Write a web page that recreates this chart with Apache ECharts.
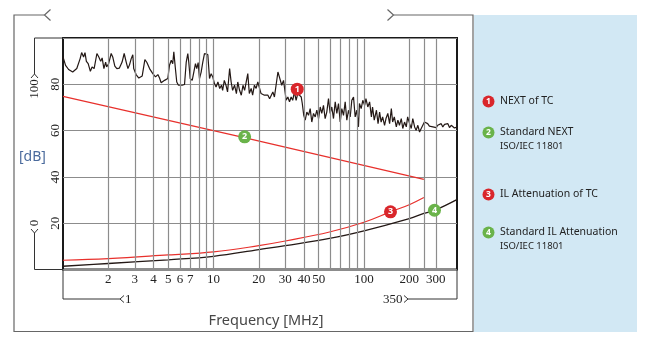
<!DOCTYPE html>
<html>
<head>
<meta charset="utf-8">
<script src="https://cdn.jsdelivr.net/npm/echarts@6/dist/echarts.min.js"></script>
<style>
  html, body { margin: 0; padding: 0; background: #ffffff; }
  #chart { width: 655px; height: 342px; }
</style>
</head>
<body>
<div id="chart"></div>
<script>
// Measured NEXT of the cable (noisy trace), frequency in MHz and level in dB
const nextFreq = [
  1.00, 1.04, 1.09, 1.16, 1.235, 1.30, 1.33, 1.37, 1.40, 1.43, 1.47, 1.52, 1.56, 1.61, 1.68, 1.73,
  1.78, 1.82, 1.87, 1.92, 1.95, 2.01, 2.09, 2.14, 2.21, 2.28, 2.37, 2.47, 2.55, 2.63, 2.70, 2.77,
  2.84, 2.91, 2.95, 3.06, 3.19, 3.36, 3.50, 3.61, 3.76, 3.95, 4.12, 4.27, 4.38, 4.49, 4.73, 4.85,
  4.97, 5.10, 5.24, 5.36, 5.45, 5.57, 5.70, 5.85, 6.01, 6.19, 6.42, 6.59, 6.75, 6.85, 7.00, 7.22,
  7.40, 7.59, 7.74, 7.91, 8.07, 8.28, 8.49, 8.71, 8.94, 9.17, 9.41, 9.65, 9.89, 10.15, 10.4, 10.7,
  11.0, 11.3, 11.5, 11.8, 12.1, 12.4, 12.8, 13.1, 13.4, 13.8, 14.2, 14.5, 14.9, 15.3, 15.7, 16.1,
  16.5, 16.9, 17.3, 17.8, 18.2, 18.7, 19.2, 19.7, 20.2, 20.7, 21.3, 21.8, 22.4, 23.0, 23.6, 24.2,
  24.8, 25.4, 26.1, 26.8, 27.4, 27.9, 28.4, 29.2, 30.0, 30.4, 31.2, 32.0, 32.8, 33.6, 34.5, 35.4,
  36.3, 37.3, 38.3, 38.9, 39.8, 40.7, 41.7, 42.8, 43.9, 45.0, 46.2, 47.4, 48.6, 49.9, 51.2, 52.4,
  53.8, 55.2, 56.6, 58.1, 59.6, 61.1, 62.7, 64.4, 66.0, 67.7, 69.5, 71.2, 73.1, 75.0, 76.9, 78.9,
  81.0, 83.0, 85.2, 87.4, 89.6, 91.9, 93.3, 95.8, 98.2, 101, 103, 106, 109, 112, 114, 117,
  121, 124, 127, 130, 133, 137, 140, 144, 148, 152, 155, 159, 164, 168, 172, 177,
  181, 186, 191, 195, 201, 206, 211, 217, 222, 228, 234, 240, 246, 252, 259, 265,
  272, 280, 287, 294, 302, 309, 317, 326, 334, 343, 352, 361, 370, 380, 389, 399, 414
];
const nextDb = [
  91.8, 88.2, 86.4, 85.3, 86.8, 91.1, 93.7, 91.8, 93.7, 89.9, 88.9, 85.6, 87.5, 86.8, 93.3, 91.8,
  89.9, 91.4, 86.8, 89.6, 87.5, 88.9, 93.3, 91.8, 87.9, 86.8, 87.0, 89.6, 93.3, 89.6, 86.8, 88.5,
  91.1, 92.8, 86.8, 84.2, 82.7, 83.6, 90.7, 89.4, 86.8, 84.6, 83.2, 84.2, 82.7, 80.7, 81.7, 81.0,
  82.5, 88.2, 90.4, 88.9, 94.0, 87.5, 81.0, 79.6, 80.3, 79.6, 79.9, 89.6, 93.3, 89.6, 82.5, 81.7,
  85.3, 88.9, 86.8, 89.4, 82.5, 85.3, 89.6, 93.3, 92.5, 92.8, 82.5, 84.6, 83.2, 80.3, 78.8, 81.0,
  78.2, 79.6, 77.4, 81.7, 79.6, 76.7, 86.8, 81.0, 77.4, 79.6, 76.0, 81.0, 77.4, 75.3, 79.6, 77.4,
  81.0, 84.6, 76.0, 78.2, 75.3, 79.6, 78.2, 81.0, 81.0, 76.0, 76.7, 75.3, 74.5, 75.3, 73.8, 74.5,
  76.7, 74.5, 75.3, 85.3, 83.2, 83.9, 79.6, 81.7, 76.0, 73.1, 74.5, 72.4, 74.5, 73.1, 76.7, 73.1,
  76.0, 75.3, 74.5, 71.7, 66.6, 64.5, 68.0, 66.6, 69.5, 63.7, 67.4, 65.9, 68.8, 65.2, 70.2, 67.4,
  70.9, 65.2, 68.0, 73.8, 67.4, 70.2, 65.2, 72.4, 67.4, 71.7, 63.7, 69.5, 66.6, 72.4, 64.5, 68.8,
  65.9, 73.1, 74.5, 65.9, 68.8, 61.6, 71.7, 69.5, 73.1, 70.9, 73.8, 70.2, 72.4, 65.9, 70.2, 64.5,
  68.8, 63.0, 68.0, 63.7, 65.9, 62.3, 65.2, 67.4, 63.0, 69.5, 63.7, 65.9, 61.6, 64.5, 62.3, 65.2,
  60.9, 63.7, 61.6, 65.9, 63.0, 60.9, 65.2, 61.6, 60.1, 62.3, 59.4, 60.9, 61.6, 63.7, 64.5, 63.0,
  61.9, 62.3, 61.6, 62.0, 61.3, 62.3, 61.6, 63.0, 61.6, 62.7, 61.9, 63.0, 61.3, 62.3, 61.6, 61.1, 61.5
];

// ISO/IEC 11801 NEXT limit
const stdNextFreq = [1, 16, 250];
const stdNextDb = [74.8, 57.0, 38.9];

// Insertion loss of the cable
const ilFreq = [1, 2, 5, 10, 20, 30, 59, 100, 150, 200, 250];
const ilDb = [4.0, 4.7, 6.3, 7.6, 10.3, 12.3, 16.2, 20.4, 24.9, 28.0, 31.1];

// ISO/IEC 11801 insertion loss limit
const stdIlFreq = [1, 2, 5, 10, 20, 30, 59, 100, 200, 250, 300, 414];
const stdIlDb = [1.4, 2.6, 4.2, 5.7, 8.6, 10.3, 13.4, 16.7, 22.0, 24.2, 25.8, 30.2];

// Frequency grid lines and the ones that carry a label
const xGridValues = [2, 3, 4, 5, 6, 7, 8, 9, 10, 20, 30, 40, 50, 60, 70, 80, 90, 100, 200, 250, 300];
const xTickLabels = [2, 3, 4, 5, 6, 7, 10, 20, 30, 40, 50, 100, 200, 300];
const yTickLabels = [20, 40, 60, 80];

// Numbered callouts: [frequency, dB]
const callouts = [
  { num: '1', at: [36, 77.9], color: '#d9262b' },
  { num: '2', at: [16.1, 57.3], color: '#6ab34a' },
  { num: '3', at: [150, 24.9], color: '#d9262b' },
  { num: '4', at: [294, 25.6], color: '#6ab34a' }
];

const X_MIN = 1, X_MAX = 415;
const RED = '#e8302c';
const INK = '#231815';
const GRID = '#8c8c8c';
const SERIF = '"Liberation Serif", "DejaVu Serif", serif';
const SANS = '"Noto Sans", "Open Sans", sans-serif';

const zip = (xs, ys) => xs.map((x, i) => [x, ys[i]]);

function callout(c) {
  return {
    symbol: 'circle',
    symbolSize: 13,
    data: [{ coord: c.at, itemStyle: { color: c.color }, label: { formatter: c.num } }],
    label: { show: true, position: 'inside', color: '#fff', fontSize: 9, fontWeight: 'bold', fontFamily: SANS },
    silent: true
  };
}

const chart = echarts.init(document.getElementById('chart'), null, { renderer: 'canvas' });

const option = {
  animation: false,
  backgroundColor: '#ffffff',
  grid: {
    left: 63, right: 198, top: 38, bottom: 72.5,
    show: true, borderColor: '#1a1a1a', borderWidth: 2, backgroundColor: 'transparent'
  },
  xAxis: {
    type: 'log', logBase: 10, min: X_MIN, max: X_MAX,
    axisLine: { show: false }, axisTick: { show: false },
    axisLabel: { show: false }, splitLine: { show: false }, minorSplitLine: { show: false }
  },
  yAxis: {
    type: 'value', min: 0, max: 100, interval: 20,
    axisLine: { show: false }, axisTick: { show: false },
    splitLine: { show: true, lineStyle: { color: GRID, width: 1.2 } },
    axisLabel: { show: false }
  },
  series: [
    {
      name: 'grid',
      type: 'line',
      data: [],
      z: 1,
      silent: true,
      markLine: {
        silent: true,
        symbol: ['none', 'none'],
        lineStyle: { color: GRID, width: 1.2, type: 'solid' },
        label: {
          position: 'start', distance: 4, color: '#222', fontSize: 13, fontFamily: SERIF,
          formatter: p => String(p.value)
        },
        emphasis: { disabled: true },
        data: xGridValues.map(v => ({ xAxis: v, label: { show: xTickLabels.indexOf(v) >= 0 } }))
      }
    },
    {
      name: 'NEXT of TC',
      type: 'line', data: zip(nextFreq, nextDb), showSymbol: false, z: 3,
      lineStyle: { color: INK, width: 1.2 },
      markPoint: callout(callouts[0])
    },
    {
      name: 'Standard NEXT',
      type: 'line', data: zip(stdNextFreq, stdNextDb), showSymbol: false, z: 3,
      lineStyle: { color: RED, width: 1.2 },
      markPoint: callout(callouts[1])
    },
    {
      name: 'IL Attenuation of TC',
      type: 'line', data: zip(ilFreq, ilDb), showSymbol: false, smooth: 0.4, z: 3,
      lineStyle: { color: RED, width: 1.2 },
      markPoint: callout(callouts[2])
    },
    {
      name: 'Standard IL Attenuation',
      type: 'line', data: zip(stdIlFreq, stdIlDb), showSymbol: false, smooth: 0.4, z: 3,
      lineStyle: { color: INK, width: 1.3 },
      markPoint: callout(callouts[3])
    }
  ]
};

chart.setOption(option);

// Decorations placed relative to the plot corners
const px = v => chart.convertToPixel({ gridIndex: 0 }, v);
const [xl, yb] = px([X_MIN, 0]);
const [xr, yt] = px([X_MAX, 100]);

const thin = { stroke: '#333', lineWidth: 1, fill: null };
const frame = { stroke: '#666', lineWidth: 1.2, fill: null };

function poly(points, style) {
  return { type: 'polyline', shape: { points }, style, silent: true, z: 10 };
}
function text(x, y, str, style, extra) {
  return Object.assign({
    type: 'text', x, y, silent: true, z: 10,
    style: Object.assign({ text: str, fill: '#222', align: 'left', verticalAlign: 'middle' }, style)
  }, extra || {});
}
function badge(cx, cy, num, color) {
  return [
    { type: 'circle', shape: { cx, cy, r: 6 }, style: { fill: color }, silent: true, z: 10 },
    text(cx, cy + 0.5, num, { fill: '#fff', fontSize: 8.5, fontWeight: 'bold', fontFamily: SANS, align: 'center' })
  ];
}
const UP = { rotation: Math.PI / 2 };   // text reading bottom-to-top

const bx = 34.5;   // y-range bracket
const by = 299;    // x-range bracket

// level tick labels, set upright along the axis
const yLabels = yTickLabels.map(v => {
  const y = px([X_MIN, v])[1];
  return text(xl - 7, y, String(v), { fontSize: 13, fontFamily: SERIF, align: 'center' }, UP);
});

const elements = [
  // side panel
  { type: 'rect', shape: { x: 474, y: 15, width: 163, height: 317 }, style: { fill: '#d2e8f4' }, silent: true, z: 0 },
  // outer frame with opening chevrons on top
  poly([[44.5, 15], [14, 15], [14, 331.5], [473, 331.5], [473, 15], [393.5, 15]], frame),
  poly([[50.5, 9.5], [44.5, 15], [50.5, 20.5]], frame),
  poly([[387.5, 9.5], [393.5, 15], [387.5, 20.5]], frame),

  ...yLabels,

  // level range bracket 0 ... 100
  poly([[xl, yt], [bx, yt], [bx, 74]], thin),
  poly([[bx - 3.5, 78], [bx, 74], [bx + 3.5, 78]], thin),
  text(bx, 89, '100', { fontSize: 13, fontFamily: SERIF, align: 'center' }, UP),
  poly([[xl, yb], [bx, yb], [bx, 233]], thin),
  poly([[bx - 3.5, 229], [bx, 233], [bx + 3.5, 229]], thin),
  text(bx, 223, '0', { fontSize: 13, fontFamily: SERIF, align: 'center' }, UP),

  // frequency range bracket 1 ... 350
  poly([[xl, yb], [xl, by], [120, by]], thin),
  poly([[124, by - 3.5], [120, by], [124, by + 3.5]], thin),
  text(125, by + 0.5, '1', { fontSize: 13, fontFamily: SERIF }),
  poly([[xr, yb], [xr, by], [408, by]], thin),
  poly([[404, by - 3.5], [408, by], [404, by + 3.5]], thin),
  text(402.5, by + 0.5, '350', { fontSize: 13, fontFamily: SERIF, align: 'right' }),

  // axis titles
  text(266, 321, 'Frequency [MHz]', { fontSize: 14.5, fontFamily: SANS, fill: '#474747', align: 'center' }),
  text(19, 157, '[dB]', { fontSize: 14, fontFamily: SANS, fill: '#4a6a9c' }),

  // legend
  ...badge(488.5, 101.5, '1', '#d9262b'),
  text(500, 101.5, 'NEXT of TC', { fontSize: 10.5, fontFamily: SANS }),
  ...badge(488.5, 132.5, '2', '#6ab34a'),
  text(500, 132.5, 'Standard NEXT', { fontSize: 10.5, fontFamily: SANS }),
  text(500, 146.5, 'ISO/IEC 11801', { fontSize: 9.5, fontFamily: SANS }),
  ...badge(488.5, 194.5, '3', '#d9262b'),
  text(500, 194.5, 'IL Attenuation of TC', { fontSize: 10.5, fontFamily: SANS }),
  ...badge(488.5, 232.5, '4', '#6ab34a'),
  text(500, 232.5, 'Standard IL Attenuation', { fontSize: 10.5, fontFamily: SANS }),
  text(500, 246.5, 'ISO/IEC 11801', { fontSize: 9.5, fontFamily: SANS })
];

chart.setOption({ graphic: { elements } });
</script>
</body>
</html>
